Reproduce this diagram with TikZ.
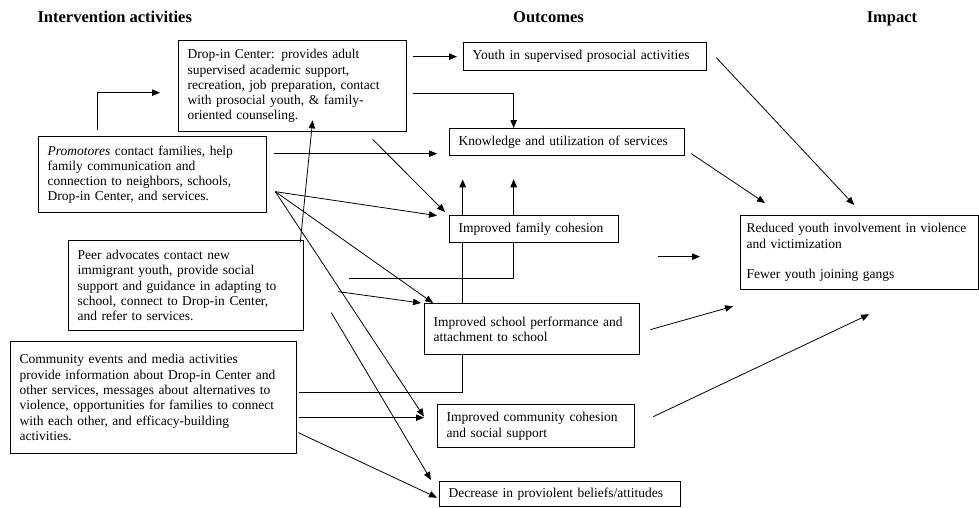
\documentclass[tikz,border=0pt]{standalone}
\usepackage{fontspec}
\setmainfont{Liberation Serif}
\usetikzlibrary{arrows.meta,backgrounds}

\begin{document}
\begin{tikzpicture}[x=1pt, y=-1pt,
    box/.style={draw, line width=1.3pt, fill=white, anchor=north west, align=left,
        inner xsep=9pt, inner ysep=2pt, font=\fontsize{13.5}{15.3}\selectfont},
    arr/.style={line width=0.8pt, -{Triangle[length=8pt,width=6.5pt]}},
    head/.style={font=\bfseries\fontsize{16.5}{18}\selectfont}]
    \useasboundingbox (0,0) rectangle (979,507);

    % Column headings
    \node[head, anchor=base west] (hint) at (34,22) {Intervention activities};
    \node[head, anchor=base] (hout) at (548.5,22) {Outcomes};
    \node[head, anchor=base] (himp) at (892,22) {Impact};

    % Intervention activities
    \node[box, text width=210pt, minimum height=91pt] (drop) at (178,40)
        {Drop-in Center: provides adult\\ supervised academic support,\\ recreation, job preparation, contact\\ with prosocial youth, \& family-\\ oriented counseling.};
    \node[box, text width=210pt, minimum height=76pt] (promo) at (38,136)
        {\textit{Promotores} contact families, help\\ family communication and\\ connection to neighbors, schools,\\ Drop-in Center, and services.};
    \node[box, text width=217pt, minimum height=90pt] (peer) at (68,240)
        {Peer advocates contact new\\ immigrant youth, provide social\\ support and guidance in adapting to\\ school, connect to Drop-in Center,\\ and refer to services.};
    \node[box, text width=268pt, minimum height=112pt] (commev) at (10,341)
        {Community events and media activities\\ provide information about Drop-in Center and\\ other services, messages about alternatives to\\ violence, opportunities for families to connect\\ with each other, and efficacy-building\\ activities.};

    % Outcomes
    \node[box, text width=225pt, minimum height=28pt] (youth) at (463,42)
        {Youth in supervised prosocial activities};
    \node[box, text width=217pt, minimum height=27pt] (know) at (449,128)
        {Knowledge and utilization of services};
    \node[box, text width=151pt, minimum height=27pt] (fam) at (449,215)
        {Improved family cohesion};
    \node[box, text width=197pt, minimum height=51pt] (school) at (424,303)
        {Improved school performance and\\ attachment to school};
    \node[box, text width=179pt, minimum height=43pt] (comm) at (437,404)
        {Improved community cohesion\\ and social support};
    \node[box, text width=223pt, minimum height=25pt] (decr) at (439,481)
        {Decrease in proviolent beliefs/attitudes};

    % Impact
    \node[box, text width=226pt, inner xsep=6pt, minimum height=74pt] (reduced) at (740,215)
        {Reduced youth involvement in violence\\ and victimization\\[15.3pt] Fewer youth joining gangs};

    % Lines that run behind the outcome boxes
    \begin{scope}[on background layer]
        \draw[arr] ([shift={(45,-7)}]peer.east) -| ([shift={(-53.5,23)}]know.south);
        \draw[arr] ([shift={(2,-5)}]commev.east) -| ([shift={(-104.5,23)}]know.south);
    \end{scope}

    % Activities to outcomes
    \draw[arr] ([shift={(-55,-6)}]promo.north) |- ([shift={(-18,6.5)}]drop.west);
    \draw[arr] ([shift={(6,-29.5)}]drop.east) -- ([shift={(-6,0)}]youth.west);
    \draw[arr] ([shift={(6,7.5)}]drop.east) -| ([shift={(-53.5,0)}]know.north);
    \draw[arr] ([shift={(80,7)}]drop.south) -- ([shift={(-4,-3)}]fam.north west);
    \draw[arr] ([shift={(7,-21)}]promo.east) -- ([shift={(-12,11.5)}]know.west);
    \coordinate (fan) at ([shift={(8,17)}]promo.east);
    \draw[arr] (fan) -- ([shift={(-12,-13.5)}]fam.west);
    \draw[arr] (fan) -- ([shift={(9,0)}]school.north west);
    \draw[arr] (fan) -- ([shift={(-13,-9.5)}]comm.west);
    \draw[arr] ([shift={(-4,2)}]peer.north east) -- ([shift={(20,-12)}]drop.south);
    \draw[arr] ([shift={(34,6)}]peer.east) -- ([shift={(-3,0)}]school.north west);
    \draw[arr] ([shift={(27,27)}]peer.east) -- ([shift={(-8,-1)}]decr.north west);
    \draw[arr] ([shift={(2,20)}]commev.east) -- ([shift={(-13,-8.5)}]comm.west);
    \draw[arr] ([shift={(1,35)}]commev.east) -- ([shift={(-2,3.5)}]decr.west);

    % Outcomes to impact
    \draw[arr] ([shift={(9,1)}]youth.east) -- ([shift={(-5.5,-10)}]reduced.north);
    \draw[arr] ([shift={(6,11.5)}]know.east) -- ([shift={(25,-12)}]reduced.north west);
    \draw[arr] ([shift={(39,27.5)}]fam.east) -- ([shift={(-40,4)}]reduced.west);
    \draw[arr] ([shift={(10,0.5)}]school.east) -- ([shift={(-7,16)}]reduced.south west);
    \draw[arr] ([shift={(18,-9.5)}]comm.east) -- ([shift={(9.5,24)}]reduced.south);
\end{tikzpicture}
\end{document}
